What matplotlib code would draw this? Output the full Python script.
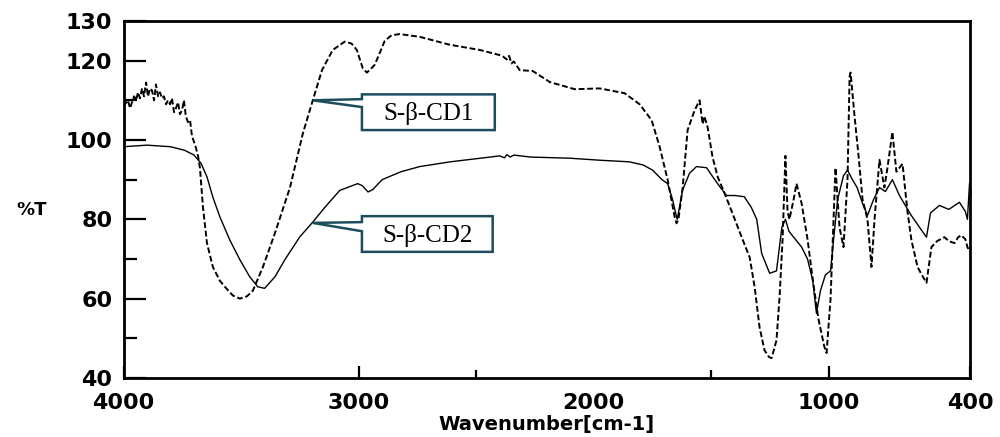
import matplotlib
matplotlib.use("Agg")
import matplotlib.pyplot as plt
from matplotlib.patches import Polygon

# ---------------- data ----------------
cd1_wn = [4000, 3981, 3972, 3964, 3955, 3947, 3938, 3930, 3921, 3913, 3904, 3896, 3887, 3879,
          3870, 3862, 3853, 3845, 3836, 3828, 3819, 3811, 3802, 3794, 3785, 3777, 3768, 3760,
          3751, 3743, 3735, 3726, 3717, 3709, 3700, 3692, 3683, 3675, 3662, 3645, 3620, 3590,
          3569, 3535, 3505, 3475, 3450, 3407, 3356, 3292, 3237, 3195, 3156, 3110, 3059, 3030,
          3008, 2982, 2965, 2950, 2931, 2889, 2860, 2825, 2740, 2612, 2485, 2400, 2385, 2370,
          2360, 2350, 2340, 2315, 2260, 2187, 2081, 1975, 1869, 1805, 1754, 1720, 1686, 1656,
          1648, 1640, 1622, 1601, 1571, 1550, 1537, 1530, 1516, 1495, 1473, 1444, 1410, 1371,
          1337, 1316, 1295, 1274, 1255, 1244, 1223, 1210, 1197, 1185, 1176, 1168, 1150, 1138,
          1116, 1091, 1069, 1045, 1020, 1010, 993, 972, 955, 938, 921, 912, 908, 891, 874, 857,
          836, 819, 806, 785, 764, 751, 730, 713, 687, 666, 649, 623, 605, 585, 564, 540, 509,
          490, 466, 450, 437, 420, 411, 402]
cd1_t = [108.5, 110, 108, 109.5, 111, 110, 112, 110.5, 113, 111, 114.5, 111, 113, 112.5,
         110, 114, 111, 112, 110.5, 111, 109, 110, 109, 110.5, 107, 108, 109.5, 106.5,
         107.5, 110, 106, 104.5, 105, 101, 99.5, 98, 96, 93, 83, 74, 68, 64.5,
         63, 60.8, 60, 60.6, 62, 68, 76.5, 88, 101.7, 110, 117.6, 122.7, 124.8, 124.3,
         122.7, 118, 117, 117.8, 119, 125, 126.4, 126.7, 126, 124, 122.7, 121.4, 121, 120.3,
         121.2, 119.3, 119.8, 117.6, 117.4, 114.6, 112.8, 113, 111.8, 109, 105, 98.3, 90, 80.6,
         79, 80, 88, 102.5, 107.5, 110, 104, 106, 103.3, 95.7, 90.7, 86.6, 81.5, 75.5,
         70.4, 63, 52.8, 47, 45.3, 45, 49.5, 60.3, 75, 96, 82, 80, 85, 89,
         84, 75, 65, 55, 48, 46.3, 60, 93, 78, 73, 90, 116, 117, 106, 96, 85,
         80, 68, 80, 95, 88, 93, 102, 92, 94, 82, 74.7, 68, 66, 64, 73, 74.5, 75.5,
         74.5, 74, 75.5, 76, 75, 73, 72]

cd2_wn = [4000, 3900, 3800, 3740, 3700, 3670, 3645, 3620, 3590, 3548, 3505, 3463, 3429, 3400,
          3356, 3314, 3250, 3195, 3144, 3080, 3004, 2985, 2960, 2940, 2900, 2820, 2740, 2610,
          2440, 2400, 2380, 2370, 2355, 2340, 2270, 2100, 1975, 1850, 1790, 1750, 1710, 1686,
          1665, 1652, 1645, 1622, 1593, 1563, 1520, 1495, 1465, 1435, 1400, 1360, 1330, 1307,
          1286, 1252, 1223, 1200, 1185, 1170, 1150, 1116, 1091, 1069, 1053, 1036, 1015, 993,
          980, 963, 938, 921, 900, 880, 857, 836, 810, 785, 760, 730, 700, 670, 650, 615,
          585, 568, 530, 490, 445, 420, 411, 402]
cd2_t = [98.3, 98.7, 98.3, 97.4, 96.2, 94.1, 90.7, 85.6, 80.6, 74.8, 69.8, 65.5, 63, 62.6,
         65.5, 69.8, 75.6, 79.3, 83, 87.3, 89, 88.5, 86.9, 87.5, 90, 92, 93.3, 94.5,
         95.7, 96, 95.5, 96.3, 95.7, 96.2, 95.7, 95.4, 94.9, 94.5, 93.7, 92.4, 90, 89,
         85, 81.6, 80, 87.4, 91.6, 93.3, 93, 90.8, 88.3, 86, 86, 85.7, 83, 80,
         71.4, 66.4, 67, 78, 80, 77, 75.5, 73, 70, 64.6, 56.3, 62, 66, 67,
         75, 85, 91, 92.4, 90, 88, 84, 81, 85, 88, 87, 90, 86, 83, 81, 78,
         75.5, 81.6, 83.5, 82.5, 84.3, 82, 80, 89]

x_ticks = [4000, 3000, 2000, 1000, 400]
x_minor = [2500, 1500]
y_ticks = [40, 60, 80, 100, 120, 130]
y_minor = [50, 70, 90, 110]
labels = ["S-β-CD1", "S-β-CD2"]

# ---------------- figure ----------------
fig = plt.figure(figsize=(10, 4.37), dpi=100)
ax = fig.add_axes([0.1235, 0.135, 0.8465, 0.817])

ax.plot(cd1_wn, cd1_t, color="black", lw=1.4, dashes=(3.0, 1.4))
ax.plot(cd2_wn, cd2_t, color="black", lw=1.0)

ax.set_xlim(4000, 400)
ax.set_ylim(40, 130)

tick_font = dict(family="DejaVu Sans", weight="bold", size=16)
ax.set_xticks(x_ticks)
ax.set_xticklabels([str(v) for v in x_ticks], fontdict=tick_font)
ax.set_xticks(x_minor, minor=True)
ax.set_yticks(y_ticks)
ax.set_yticklabels([str(v) for v in y_ticks], fontdict=tick_font)
ax.set_yticks(y_minor, minor=True)

ax.tick_params(axis="x", which="major", direction="in", length=9, width=1.6, pad=11)
ax.tick_params(axis="x", which="minor", direction="in", length=6, width=1.6)
ax.tick_params(axis="y", which="major", direction="in", length=16, width=1.6, pad=8)
ax.tick_params(axis="y", which="minor", direction="in", length=9, width=1.6)
ax.xaxis.get_major_ticks()[2].tick1line.set_visible(False)

for side, sp in ax.spines.items():
    sp.set_linewidth(2.0)
    sp.set_color("black")

ax.set_xlabel("Wavenumber[cm-1]", fontsize=14, fontweight="bold", labelpad=1)
fig.text(0.032, 1 - 210 / 437, "%T", fontsize=13, fontweight="bold",
         ha="center", va="center")

# callout boxes (data coordinates)
def callout(tip, attach_hi, attach_lo, left, right, top, bottom, text):
    pts = [tip, (left, attach_lo), (left, bottom), (right, bottom), (right, top),
           (left, top), (left, attach_hi)]
    ax.add_patch(Polygon(pts, closed=True, facecolor="white", edgecolor="#1d4d5c",
                         lw=1.8, zorder=5))
    ax.text((left + right) / 2, (top + bottom) / 2 - 0.3, text, family="Liberation Serif",
            fontsize=18, ha="center", va="center", zorder=6)

callout((3195, 110.0), 110.3, 108.3, 2986, 2421, 111.5, 102.5, labels[0])
callout((3195, 79.1), 79.3, 77.0, 2986, 2430, 80.8, 71.8, labels[1])

fig.savefig("out.png", dpi=100)
